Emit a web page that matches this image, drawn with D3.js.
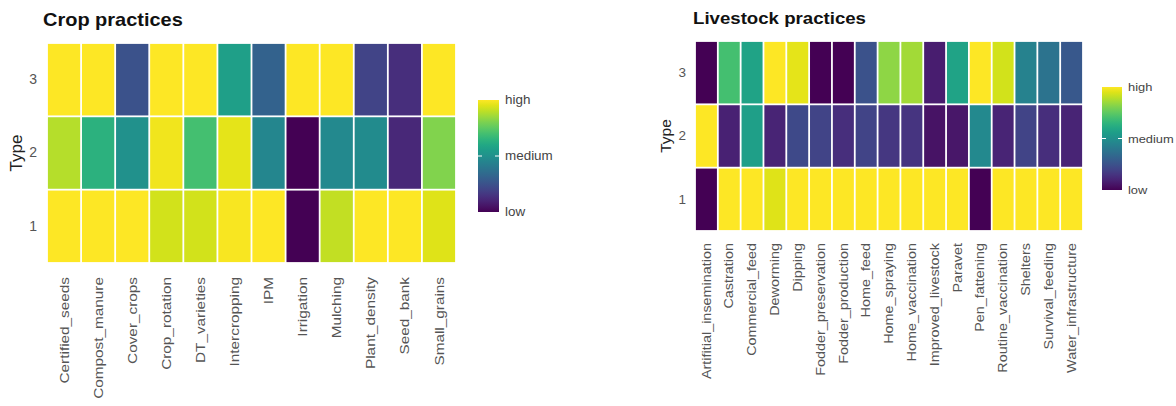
<!DOCTYPE html>
<html>
<head>
<meta charset="utf-8">
<script src="https://cdn.jsdelivr.net/npm/d3@7"></script>
<style>
  html, body { margin: 0; padding: 0; background: #fff; }
  svg { display: block; font-family: "Liberation Sans", Arial, sans-serif; }
</style>
</head>
<body>
<svg id="chart" width="1176" height="406"></svg>
<script>
// Adoption level per practice (0 = low, 1 = high), one array per farm type
const cropPractices = ["Certified_seeds", "Compost_manure", "Cover_crops", "Crop_rotation",
  "DT_varieties", "Intercropping", "IPM", "Irrigation", "Mulching", "Plant_density",
  "Seed_bank", "Small_grains"];
const cropType1 = [1.00, 1.00, 1.00, 0.93, 0.93, 0.99, 1.00, 0.00, 0.91, 1.00, 1.00, 0.95];
const cropType2 = [0.89, 0.64, 0.50, 0.98, 0.70, 0.96, 0.46, 0.00, 0.47, 0.48, 0.11, 0.81];
const cropType3 = [1.00, 1.00, 0.25, 1.00, 1.00, 0.56, 0.31, 1.00, 1.00, 0.20, 0.13, 1.00];

const livestockPractices = ["Artifitial_insemination", "Castration", "Commercial_feed",
  "Deworming", "Dipping", "Fodder_preservation", "Fodder_production", "Home_feed",
  "Home_spraying", "Home_vaccination", "Improved_livestock", "Paravet", "Pen_fattening",
  "Routine_vaccination", "Shelters", "Survival_feeding", "Water_infrastructure"];
const lsType1 = [0.00, 1.00, 1.00, 0.95, 1.00, 1.00, 1.00, 1.00, 1.00, 1.00, 1.00, 1.00, 0.00, 1.00, 1.00, 1.00, 1.00];
const lsType2 = [1.00, 0.09, 0.56, 0.10, 0.22, 0.20, 0.13, 0.20, 0.16, 0.15, 0.05, 0.06, 0.47, 0.10, 0.20, 0.13, 0.10];
const lsType3 = [0.00, 0.70, 0.58, 1.00, 0.96, 0.00, 0.00, 0.25, 0.83, 0.86, 0.08, 0.58, 1.00, 0.93, 0.44, 0.38, 0.27];

const typeLabels = ["1", "2", "3"];
const legendLabels = ["low", "medium", "high"];

const svg = d3.select("#chart");
const color = d3.scaleSequential(d3.interpolateViridis).domain([0, 1]);

// Text in this figure is set slightly wide
const WIDE = 1.12;

// Gradient shared by both colour bars
const defs = svg.append("defs");
const grad = defs.append("linearGradient").attr("id", "viridis-bar")
  .attr("x1", 0).attr("y1", 1).attr("x2", 0).attr("y2", 0);
d3.range(0, 1.0001, 0.05).forEach(t => {
  grad.append("stop").attr("offset", t).attr("stop-color", color(t));
});

function heatmap(opt) {
  const g = svg.append("g");
  const rows = [opt.t1, opt.t2, opt.t3];
  const cells = [];
  rows.forEach((vals, ri) => vals.forEach((v, ci) => {
    cells.push({ practice: opt.practices[ci], type: typeLabels[ri], value: v });
  }));

  const x = d3.scaleBand().domain(opt.practices).range([opt.x0, opt.x1]);
  const y = d3.scaleBand().domain(typeLabels.slice().reverse()).range([opt.y0, opt.y1]);
  const inset = 0.9;

  g.selectAll("rect.cell").data(cells).join("rect")
    .attr("class", "cell")
    .attr("x", d => x(d.practice) + inset)
    .attr("y", d => y(d.type) + inset)
    .attr("width", x.bandwidth() - 2 * inset)
    .attr("height", y.bandwidth() - 2 * inset)
    .attr("fill", d => color(d.value));

  // Title
  g.append("text")
    .attr("transform", `translate(${opt.titleX},${opt.titleY}) scale(${opt.titleWide},1)`)
    .attr("font-size", opt.titleSize).attr("font-weight", "bold").attr("fill", "#111")
    .text(opt.title);

  // Y axis (farm type)
  const yAxis = d3.axisLeft(y).tickSize(0).tickPadding(opt.yPad);
  const ya = g.append("g").attr("transform", `translate(${opt.x0},0)`).call(yAxis);
  ya.select(".domain").remove();
  ya.selectAll("text").attr("font-size", opt.tickSize).attr("fill", "#555")
    .attr("font-family", "Liberation Sans, Arial, sans-serif");

  g.append("text")
    .attr("transform", `translate(${opt.typeX},${(opt.y0 + opt.y1) / 2}) rotate(-90)`)
    .attr("text-anchor", "middle")
    .attr("font-size", opt.typeSize).attr("fill", "#222")
    .text("Type");

  // X axis (practices), labels rotated
  const xAxis = d3.axisBottom(x).tickSize(0).tickPadding(0);
  const xa = g.append("g").attr("transform", `translate(0,${opt.y1})`).call(xAxis);
  xa.select(".domain").remove();
  xa.selectAll("text")
    .attr("font-size", opt.xTickSize).attr("fill", "#555")
    .attr("font-family", "Liberation Sans, Arial, sans-serif")
    .attr("text-anchor", "end")
    .attr("dy", "0.35em")
    .attr("transform", `translate(0,${opt.xPad}) rotate(-90) scale(${opt.stretch},1)`)
    .attr("x", 0).attr("y", 0);

  // Colour bar legend
  const lg = g.append("g");
  lg.append("rect")
    .attr("x", opt.legX).attr("y", opt.legY0)
    .attr("width", opt.legW).attr("height", opt.legY1 - opt.legY0)
    .attr("fill", "url(#viridis-bar)");
  const ly = d3.scaleLinear().domain([0, 1]).range([opt.legY1, opt.legY0]);
  const levels = [0, 0.5, 1];
  lg.selectAll("line.tk").data([0.5]).join("line")
    .attr("x1", opt.legX).attr("x2", opt.legX + 4)
    .attr("y1", d => ly(d)).attr("y2", d => ly(d))
    .attr("stroke", "#fff").attr("stroke-width", 1);
  lg.selectAll("line.tk2").data([0.5]).join("line")
    .attr("x1", opt.legX + opt.legW - 4).attr("x2", opt.legX + opt.legW)
    .attr("y1", d => ly(d)).attr("y2", d => ly(d))
    .attr("stroke", "#fff").attr("stroke-width", 1);
  lg.selectAll("text.lab").data(levels).join("text")
    .attr("transform", d => `translate(${opt.legX + opt.legW + 6},${ly(d)}) scale(${WIDE},1)`)
    .attr("dy", "0.35em")
    .attr("font-size", opt.legSize).attr("fill", "#444")
    .text((d, i) => legendLabels[i]);
}

heatmap({
  title: "Crop practices", titleX: 43, titleY: 26, titleSize: 18, titleWide: 1.11,
  practices: cropPractices, t1: cropType1, t2: cropType2, t3: cropType3,
  x0: 47, x1: 456, y0: 43, y1: 263,
  yPad: 10, tickSize: 14, typeX: 22, typeSize: 17,
  xTickSize: 13, xPad: 14, stretch: 1.18,
  legX: 478, legW: 21, legY0: 100, legY1: 212, legSize: 12
});

heatmap({
  title: "Livestock practices", titleX: 693, titleY: 24, titleSize: 16.5, titleWide: 1.13,
  practices: livestockPractices, t1: lsType1, t2: lsType2, t3: lsType3,
  x0: 695, x1: 1083, y0: 41, y1: 231,
  yPad: 9, tickSize: 13.5, typeX: 671, typeSize: 15.5,
  xTickSize: 12, xPad: 12, stretch: 1.2,
  legX: 1102, legW: 20, legY0: 87, legY1: 190, legSize: 11.5
});
</script>
</body>
</html>
